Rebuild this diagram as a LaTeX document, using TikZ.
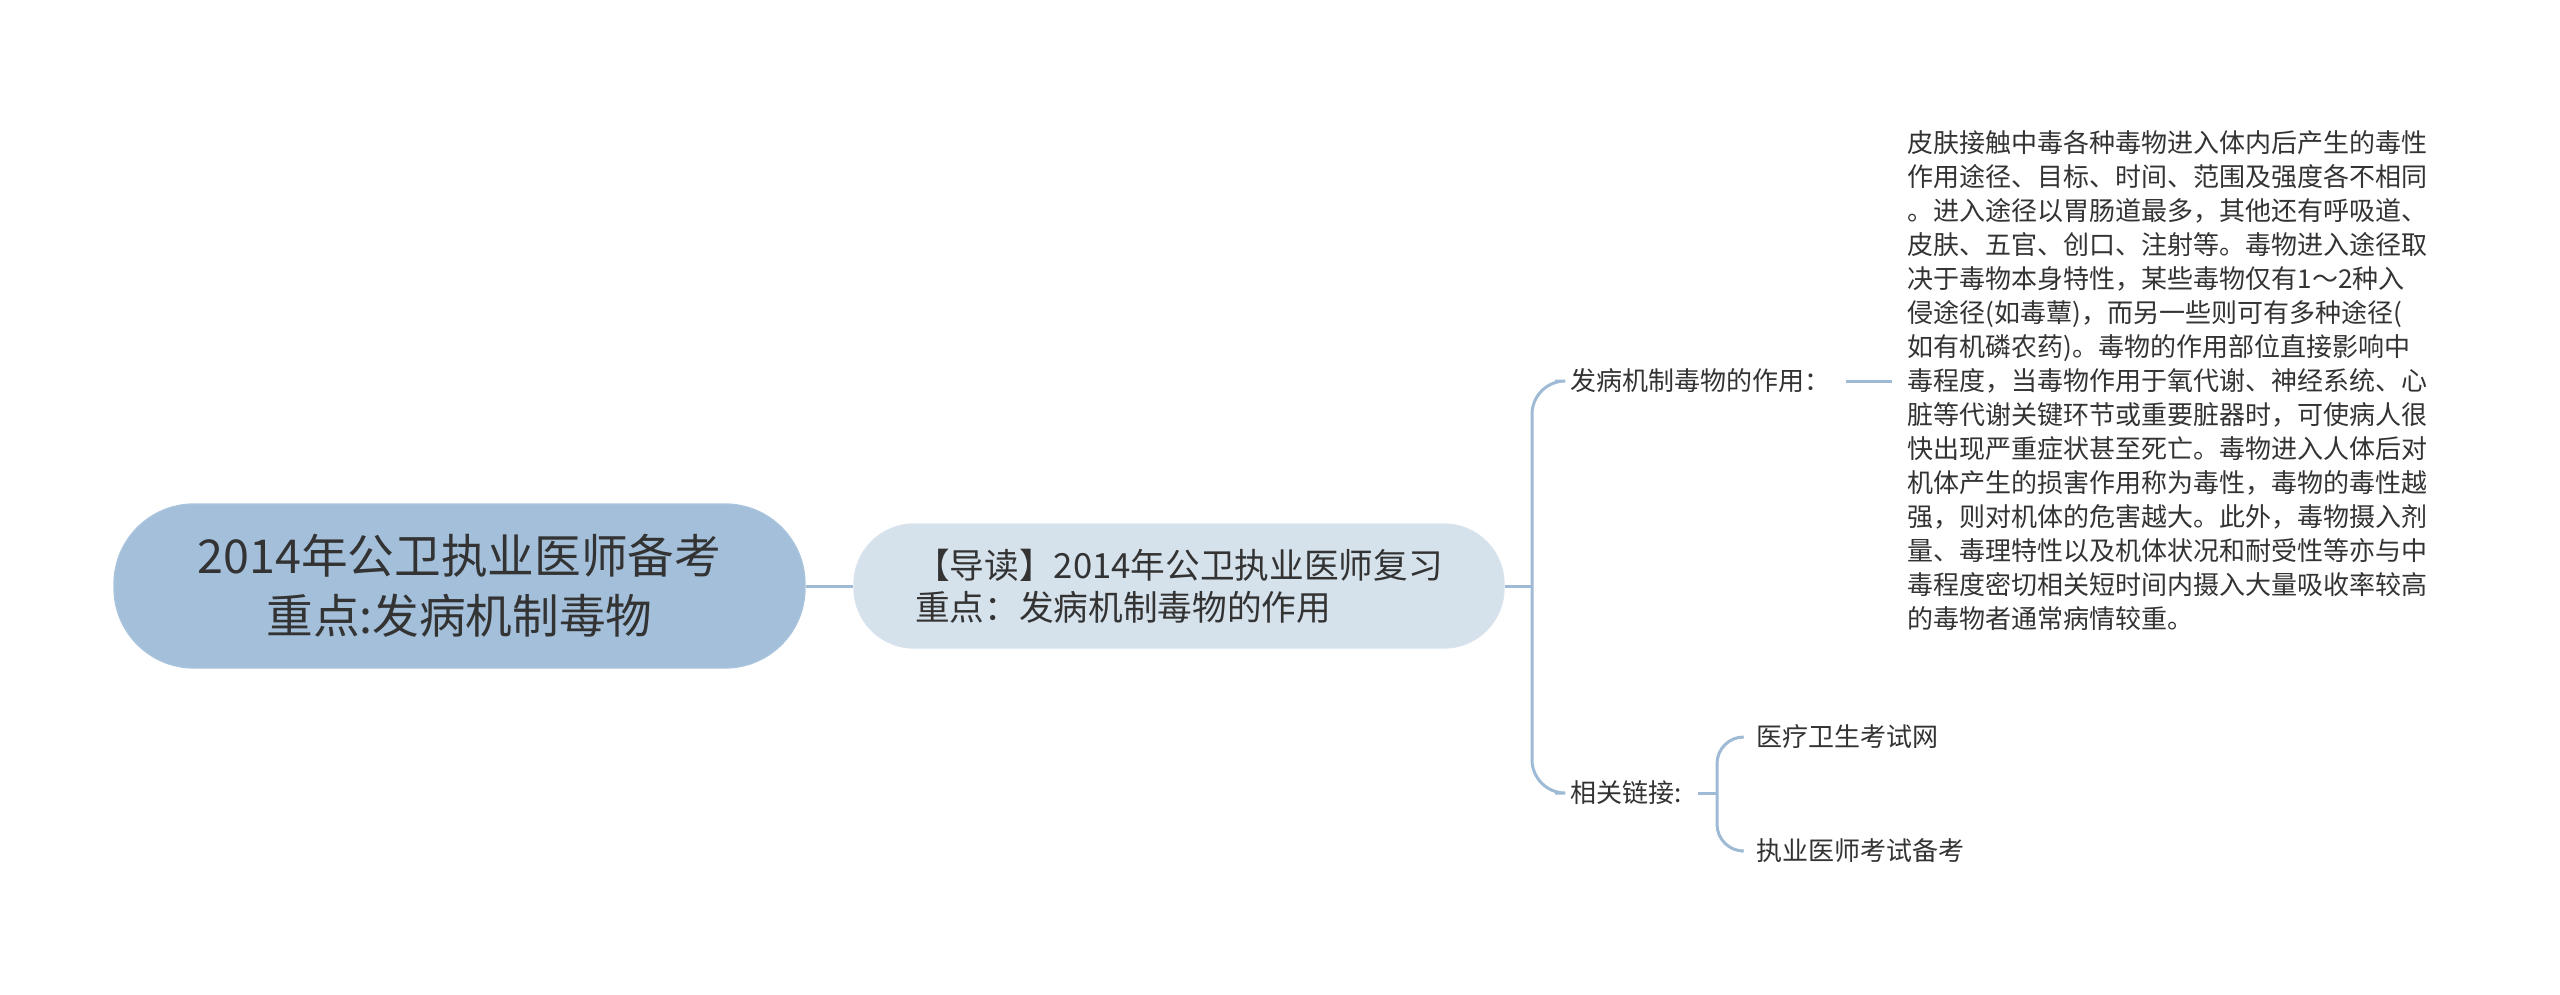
\documentclass[tikz,border=0pt]{standalone}
\usepackage{fontspec}
\setmainfont{Noto Sans CJK SC}
\usepackage{xcolor}
\usepackage{tikz}
\usetikzlibrary{positioning}
\definecolor{rootblue}{HTML}{A3BFDA}
\definecolor{leadblue}{HTML}{D5E1EB}
\definecolor{linkblue}{HTML}{9FBAD5}
\definecolor{ink}{HTML}{333333}
\tikzset{
  rootbox/.style={
    rectangle, rounded corners=24pt, fill=rootblue, draw=rootblue!92!white,
    minimum width=207.3pt, minimum height=49.2pt,
    font=\fontsize{14pt}{18pt}\selectfont, text=ink, align=center,
    inner sep=0pt
  },
  leadbox/.style={
    rectangle, rounded corners=18pt, fill=leadblue, draw=leadblue!92!white,
    minimum width=195pt, minimum height=37.2pt,
    font=\fontsize{10.4pt}{12.6pt}\selectfont, text=ink, align=left,
    inner sep=0pt
  },
  branchlabel/.style={
    font=\fontsize{7.8pt}{10.2pt}\selectfont, text=ink, align=left,
    inner xsep=4.5pt, inner ysep=2pt, anchor=west
  },
  linkline/.style={
    draw=linkblue, line width=0.9pt
  },
}

\begin{document}
\begin{tikzpicture}[x=0.3pt, y=-0.3pt]
  \useasboundingbox (0,0) rectangle (2560,994);

  \node[rootbox] (root) at (459.5,586) {2014年公卫执业医师备考\\重点:发病机制毒物};
  \node[leadbox] (lead) at (1179,586) {【导读】2014年公卫执业医师复习\\重点：发病机制毒物的作用};

  \coordinate (fork) at (1532,586);
  \node[branchlabel] (effect) at (1555,381) {发病机制毒物的作用：};
  \node[branchlabel] (links) at (1555,793) {相关链接:};

  \node[branchlabel] (detail) at (1892,381) {%
皮肤接触中毒各种毒物进入体内后产生的毒性\\
作用途径、目标、时间、范围及强度各不相同\\
。进入途径以胃肠道最多，其他还有呼吸道、\\
皮肤、五官、创口、注射等。毒物进入途径取\\
决于毒物本身特性，某些毒物仅有1～2种入\\
侵途径(如毒蕈)，而另一些则可有多种途径(\\
如有机磷农药)。毒物的作用部位直接影响中\\
毒程度，当毒物作用于氧代谢、神经系统、心\\
脏等代谢关键环节或重要脏器时，可使病人很\\
快出现严重症状甚至死亡。毒物进入人体后对\\
机体产生的损害作用称为毒性，毒物的毒性越\\
强，则对机体的危害越大。此外，毒物摄入剂\\
量、毒理特性以及机体状况和耐受性等亦与中\\
毒程度密切相关短时间内摄入大量吸收率较高\\
的毒物者通常病情较重。};

  \coordinate (fork2) at (1717,793);
  \node[branchlabel] (site1) at (1741,737) {医疗卫生考试网};
  \node[branchlabel] (site2) at (1741,851) {执业医师考试备考};

  % connectors
  \draw[linkline] (root) -- (lead);
  \draw[linkline] (lead.east) -- (fork);
  \draw[linkline, rounded corners=10pt] (fork) |- (effect.west);
  \draw[linkline, rounded corners=10pt] (fork) |- (links.west);
  \draw[linkline] (effect) -- (detail);
  \draw[linkline] (links) -- (fork2);
  \draw[linkline, rounded corners=8pt] (fork2) |- (site1.west);
  \draw[linkline, rounded corners=8pt] (fork2) |- (site2.west);
\end{tikzpicture}
\end{document}
